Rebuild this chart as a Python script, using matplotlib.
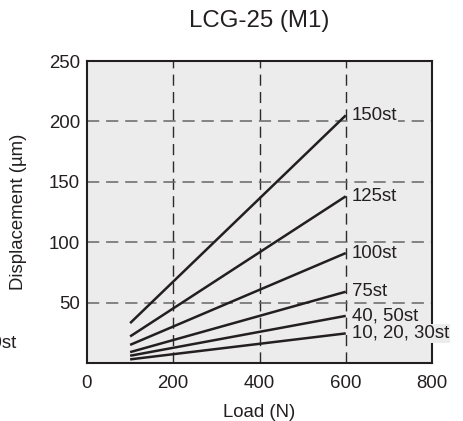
import matplotlib
matplotlib.use("Agg")
import matplotlib.pyplot as plt

plt.rcParams['font.family'] = ['Liberation Sans', 'DejaVu Sans']

# Displacement vs. load for each stroke group
series_labels = ["150st", "125st", "100st", "75st", "40, 50st", "10, 20, 30st"]
load_points = [100, 600]
disp_150 = [33, 205]
disp_125 = [22, 138]
disp_100 = [15, 91]
disp_75 = [9, 59]
disp_40_50 = [6, 39]
disp_10_30 = [3, 24.5]
series_values = [disp_150, disp_125, disp_100, disp_75, disp_40_50, disp_10_30]

x_ticks = [0, 200, 400, 600, 800]
y_ticks = [50, 100, 150, 200, 250]

W, H = 463, 421
fig = plt.figure(figsize=(W / 100, H / 100), dpi=100)
ax = fig.add_axes([87 / W, 1 - 363 / H, (432 - 87) / W, (363 - 61) / H])
ax.set_facecolor("#ececec")

ax.set_xlim(0, 800)
ax.set_ylim(0, 250)
ax.set_xticks(x_ticks)
ax.set_yticks(y_ticks)
ax.tick_params(length=0, labelsize=13.4, colors="#231f20")
ax.tick_params(axis="x", pad=8.5)
ax.tick_params(axis="y", pad=5)

for v in [200, 400, 600]:
    ax.axvline(v, color="#2a2a2a", lw=1.0, dashes=(8, 4.5), zorder=1)
for v in [50, 100, 150, 200]:
    ax.axhline(v, color="#666666", lw=1.1, dashes=(8, 4.5), zorder=1)

for label, vals in zip(series_labels, series_values):
    ax.plot(load_points, vals, color="#231f20", lw=1.8, solid_capstyle="butt", zorder=3)
    ax.annotate(label, (load_points[-1], vals[-1]), xytext=(4.5, 0),
                textcoords="offset points", ha="left", va="center",
                fontsize=13.4, color="#231f20", annotation_clip=False,
                bbox=dict(boxstyle="square,pad=0.05", fc="#ececec", ec="none"), zorder=4)

for s in ax.spines.values():
    s.set_linewidth(1.5)
    s.set_color("#231f20")

ax.set_xlabel("Load (N)", fontsize=13.4, color="#231f20", labelpad=9)
ax.set_ylabel("Displacement (µm)", fontsize=13.4, color="#231f20", labelpad=16)
fig.text(0.5 * (87 + 432) / W, 1 - 21 / H, "LCG-25 (M1)", ha="center", va="center",
         fontsize=17.3, color="#231f20")
fig.text(17 / W, 1 - 343 / H, "30st", ha="right", va="center", fontsize=13.4, color="#231f20")

fig.savefig("out.png", dpi=100)
